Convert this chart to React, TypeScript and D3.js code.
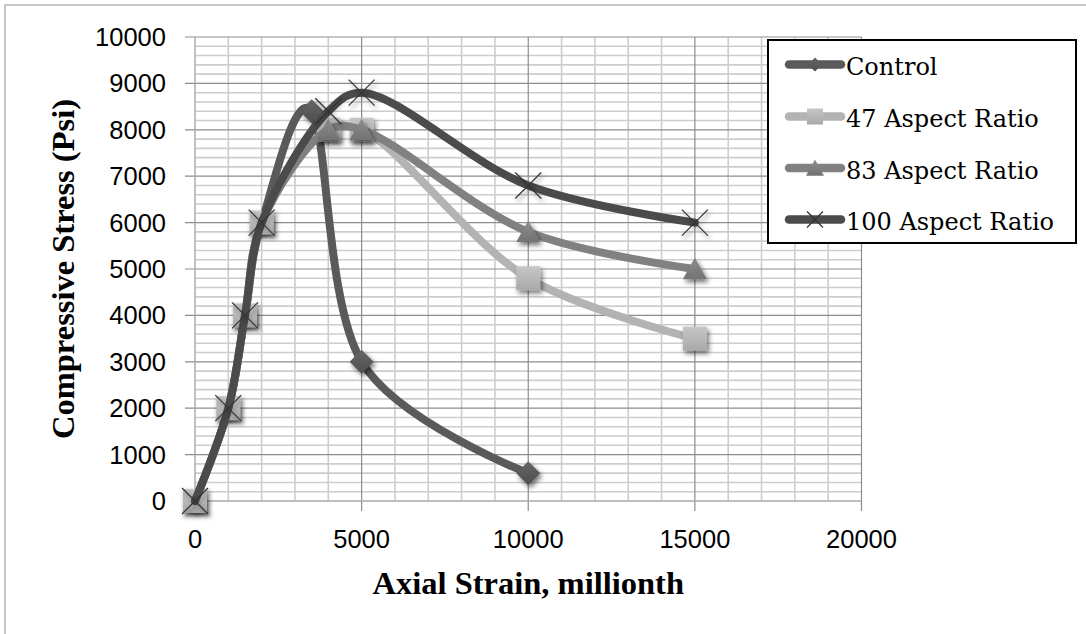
import React from "react";
import * as d3 from "d3";

// Stress–strain data (strain in millionths, stress in psi)
const controlStrain = [0, 1000, 1500, 2000, 3500, 5000, 10000];
const controlStress = [0, 2000, 4000, 6000, 8400, 3000, 600];

const ar47Strain = [0, 1000, 1500, 2000, 4000, 5000, 10000, 15000];
const ar47Stress = [0, 2000, 4000, 6000, 8000, 8000, 4800, 3500];

const ar83Strain = [0, 1000, 1500, 2000, 4000, 5000, 10000, 15000];
const ar83Stress = [0, 2000, 4000, 6000, 8000, 8000, 5800, 5000];

const ar100Strain = [0, 1000, 1500, 2000, 4000, 5000, 10000, 15000];
const ar100Stress = [0, 2000, 4000, 6000, 8400, 8800, 6800, 6000];

const xTicks = [0, 5000, 10000, 15000, 20000];
const yTicks = [0, 1000, 2000, 3000, 4000, 5000, 6000, 7000, 8000, 9000, 10000];

type MarkerKind = "diamond" | "square" | "triangle" | "cross";

interface Series {
  name: string;
  xs: number[];
  ys: number[];
  color: string;
  marker: MarkerKind;
  curve: d3.CurveFactory;
}

// Uniform cardinal smoothing keeps the rounded crest of the plain mix;
// centripetal Catmull-Rom avoids loops where fibre-mix points sit close together.
const smoothUniform = d3.curveCardinal.tension(0);
const smoothCentripetal = d3.curveCatmullRom.alpha(0.5);

const series: Series[] = [
  { name: "Control", xs: controlStrain, ys: controlStress, color: "#5a5a5a", marker: "diamond", curve: smoothUniform },
  { name: "47 Aspect Ratio", xs: ar47Strain, ys: ar47Stress, color: "#b3b3b3", marker: "square", curve: smoothCentripetal },
  { name: "83 Aspect Ratio", xs: ar83Strain, ys: ar83Stress, color: "#818181", marker: "triangle", curve: smoothCentripetal },
  { name: "100 Aspect Ratio", xs: ar100Strain, ys: ar100Stress, color: "#4b4b4b", marker: "cross", curve: smoothCentripetal },
];

const W = 1086;
const H = 634;
const plot = { left: 195, right: 861.5, top: 37, bottom: 501 };

const x = d3.scaleLinear().domain([0, 20000]).range([plot.left, plot.right]);
const y = d3.scaleLinear().domain([0, 10000]).range([plot.bottom, plot.top]);

const fills: Record<MarkerKind, string> = {
  diamond: "url(#gDiamond)",
  square: "url(#gSquare)",
  triangle: "url(#gTriangle)",
  cross: "none",
};

function Marker({ kind, cx, cy, s, shadow = true }: { kind: MarkerKind; cx: number; cy: number; s: number; shadow?: boolean }) {
  const filter = shadow ? "url(#mShadow)" : undefined;
  const h = s / 2;
  if (kind === "square") {
    return <rect x={cx - h} y={cy - h} width={s} height={s} fill={fills.square} filter={filter} />;
  }
  if (kind === "diamond") {
    return (
      <path
        d={`M${cx},${cy - h}L${cx + h},${cy}L${cx},${cy + h}L${cx - h},${cy}Z`}
        fill={fills.diamond}
        filter={filter}
      />
    );
  }
  if (kind === "triangle") {
    return (
      <path
        d={`M${cx},${cy - h * 0.95}L${cx + h},${cy + h * 0.85}L${cx - h},${cy + h * 0.85}Z`}
        fill={fills.triangle}
        filter={filter}
      />
    );
  }
  return (
    <g stroke="#333" strokeWidth={1.2} filter={filter}>
      <line x1={cx - h} y1={cy - h} x2={cx + h} y2={cy + h} />
      <line x1={cx - h} y1={cy + h} x2={cx + h} y2={cy - h} />
    </g>
  );
}

const MS = 24;

export default function App() {
  const minorY = d3.range(200, 10000, 200).filter((v) => v % 1000 !== 0);
  const majorY = d3.range(1000, 10001, 1000);
  const minorX = d3.range(1000, 20000, 1000).filter((v) => v % 5000 !== 0);
  const majorX = [5000, 10000, 15000, 20000];

  const pts = (s: Series) => s.xs.map((v, i) => [v, s.ys[i]] as [number, number]);

  // The rising branch is common to every mix; the triangles there sit beneath the squares.
  const sharedCount = 4;
  const [sCtl, s47, s83, s100] = series;

  const markers = (s: Series, from: number, to: number) =>
    pts(s)
      .slice(from, to)
      .map((p, i) => <Marker key={`${s.name}-${from + i}`} kind={s.marker} cx={x(p[0])} cy={y(p[1])} s={s.marker === "cross" ? 26 : MS} />);

  const seriesLine = (s: Series) => {
    const gen = d3
      .line<[number, number]>()
      .x((d) => x(d[0]))
      .y((d) => y(d[1]))
      .curve(s.curve);
    return <path d={gen(pts(s)) || ""} fill="none" stroke={s.color} strokeWidth={8} strokeLinejoin="round" strokeLinecap="round" />;
  };

  const legend = { x: 768, y: 40, w: 308, h: 203, rowY: [64.5, 116.5, 168, 219.5] };

  return (
    <svg width={W} height={H} style={{ position: "fixed", left: 0, top: 0, background: "#fff" }}>
      <defs>
        <filter id="mShadow" x="-60%" y="-60%" width="220%" height="220%">
          <feDropShadow dx="2" dy="3" stdDeviation="2.4" floodColor="#000" floodOpacity="0.55" />
        </filter>
        <linearGradient id="gSquare" x1="0" y1="0" x2="0" y2="1">
          <stop offset="0" stopColor="#c6c6c6" />
          <stop offset="1" stopColor="#a9a9a9" />
        </linearGradient>
        <linearGradient id="gTriangle" x1="0" y1="0" x2="0" y2="1">
          <stop offset="0" stopColor="#8e8e8e" />
          <stop offset="1" stopColor="#727272" />
        </linearGradient>
        <linearGradient id="gDiamond" x1="0" y1="0" x2="0" y2="1">
          <stop offset="0" stopColor="#666" />
          <stop offset="1" stopColor="#4e4e4e" />
        </linearGradient>
      </defs>

      <rect x={0} y={0} width={W} height={H} fill="#fff" />
      <rect x={5} y={5} width={W + 20} height={H + 20} fill="none" stroke="#b5b5b5" strokeWidth={1.5} />

      {/* grid */}
      <g>
        {minorY.map((v) => (
          <line key={`my${v}`} x1={plot.left} x2={plot.right} y1={y(v)} y2={y(v)} stroke="#cdcdcd" strokeWidth={1.6} />
        ))}
        {minorX.map((v) => (
          <line key={`mx${v}`} x1={x(v)} x2={x(v)} y1={plot.top} y2={plot.bottom} stroke="#cdcdcd" strokeWidth={1.6} />
        ))}
        {majorY.map((v) => (
          <line key={`Y${v}`} x1={plot.left - 10} x2={plot.right} y1={y(v)} y2={y(v)} stroke="#8d8d8d" strokeWidth={1.2} />
        ))}
        {majorX.map((v) => (
          <line key={`X${v}`} x1={x(v)} x2={x(v)} y1={plot.top} y2={plot.bottom + 10} stroke="#8d8d8d" strokeWidth={1.2} />
        ))}
        <line x1={plot.left} x2={plot.left} y1={plot.top} y2={plot.bottom + 10} stroke="#a8a8a8" strokeWidth={1.4} />
        <line x1={plot.left - 10} x2={plot.right} y1={plot.bottom} y2={plot.bottom} stroke="#a8a8a8" strokeWidth={1.4} />
      </g>

      {/* tick labels */}
      <g fontFamily="'Liberation Sans', Arial, sans-serif" fontSize={25.5} fill="#000">
        {yTicks.map((v) => (
          <text key={`yt${v}`} x={166} y={y(v)} textAnchor="end" dominantBaseline="central">
            {v}
          </text>
        ))}
        {xTicks.map((v) => (
          <text key={`xt${v}`} x={x(v)} y={548} textAnchor="middle">
            {v}
          </text>
        ))}
      </g>

      {/* axis titles */}
      <g fontFamily="'Liberation Serif', 'Times New Roman', serif" fontWeight="bold" fontSize={32.5} fill="#000">
        <text x={(plot.left + plot.right) / 2} y={594} textAnchor="middle">
          Axial Strain, millionth
        </text>
        <text transform={`translate(74,${(plot.top + plot.bottom) / 2}) rotate(-90)`} textAnchor="middle">
          Compressive Stress (Psi)
        </text>
      </g>

      {/* series */}
      {seriesLine(sCtl)}
      {markers(sCtl, 0, sCtl.xs.length)}
      {markers(s83, 0, sharedCount)}
      {seriesLine(s47)}
      {markers(s47, 0, s47.xs.length)}
      {seriesLine(s83)}
      {markers(s83, sharedCount, s83.xs.length)}
      {seriesLine(s100)}
      {markers(s100, 0, s100.xs.length)}

      {/* legend */}
      <g>
        <rect x={legend.x} y={legend.y} width={legend.w} height={legend.h} fill="#fff" stroke="#000" strokeWidth={2} />
        {series.map((s, i) => {
          const ly = legend.rowY[i];
          const sizes: Record<MarkerKind, number> = { diamond: 14, square: 16, triangle: 18, cross: 16 };
          return (
            <g key={s.name}>
              <line x1={789} x2={841} y1={ly} y2={ly} stroke={s.color} strokeWidth={8.5} strokeLinecap="round" />
              <Marker kind={s.marker} cx={815} cy={ly} s={sizes[s.marker]} shadow={false} />
              <text x={846} y={ly + 10.5} fontFamily="'DejaVu Serif', serif" fontSize={24} fill="#000">
                {s.name}
              </text>
            </g>
          );
        })}
      </g>
    </svg>
  );
}
